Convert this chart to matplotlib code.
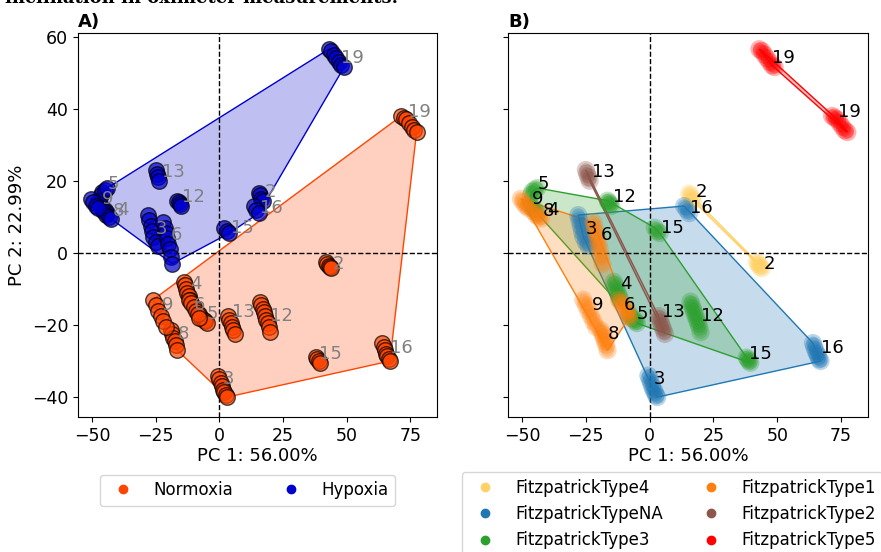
import numpy as np
import matplotlib
matplotlib.use('Agg')
import matplotlib.pyplot as plt
from matplotlib.lines import Line2D

# subjects and their skin type
subjects = [2, 3, 4, 5, 6, 8, 9, 12, 13, 15, 16, 19]
fitz = ['FitzpatrickType4', 'FitzpatrickTypeNA', 'FitzpatrickType3', 'FitzpatrickType3',
        'FitzpatrickType1', 'FitzpatrickType1', 'FitzpatrickType1', 'FitzpatrickType3',
        'FitzpatrickType2', 'FitzpatrickType3', 'FitzpatrickTypeNA', 'FitzpatrickType5']

# PCA scores, one list per subject (normoxia)
norm_pc1 = [[42, 42.5, 43, 43.5, 44],
            [-0.5, 0, 0.5, 1, 1.5, 2, 2.5, 3],
            [-14, -13.5, -13, -12.5, -12, -11.5],
            [-8, -7, -6, -5.5, -5],
            [-12, -11, -10, -9, -8.5, -8],
            [-19, -18.5, -18, -17.5, -17, -16.5],
            [-26, -25, -24, -23, -22, -21],
            [16, 16.5, 17, 17.5, 18, 18.5, 19, 19.5, 20],
            [3.5, 4, 4.5, 5, 5.5, 6],
            [38, 38.5, 39, 39.5],
            [64, 64.5, 65, 65.5, 66, 66.5, 67],
            [71.5, 72.5, 73.5, 74.5, 75.5, 76.5, 77.5]]
norm_pc2 = [[-2.5, -3, -3.5, -4, -4.3],
            [-34, -35, -36, -37, -38, -38.5, -39.5, -40],
            [-8, -9, -10, -11, -12, -13],
            [-17, -18, -18.5, -19, -19.5],
            [-13, -14, -15, -16, -17, -18],
            [-21.5, -22.5, -23.5, -24.5, -25.5, -27],
            [-13, -14.5, -16, -17.5, -19, -20.5],
            [-13.5, -14.5, -15.5, -16.5, -17.5, -18.5, -19.5, -20.5, -22],
            [-17.5, -18.5, -19.5, -20.5, -21.5, -22.5],
            [-29, -29.5, -30, -30.5],
            [-25, -26, -27, -28, -28.5, -29.5, -30],
            [38, 37.5, 37, 36, 35, 34, 33.5]]

# PCA scores, one list per subject (hypoxia)
hyp_pc1 = [[15.5, 16, 16.5, 17],
           [-28, -27.5, -27, -26.5, -26, -25, -24],
           [-47, -46, -45, -44],
           [-46.5, -46, -45, -44],
           [-22, -21.5, -21, -20.5, -20, -19.5, -19, -18.5],
           [-45.5, -44.5, -43.5, -42.5],
           [-50.5, -49.5, -48.5, -47.5],
           [-16.5, -16, -15.5, -15],
           [-25, -24.5, -24, -23.5],
           [2, 3, 4],
           [13.5, 14.5, 15.5],
           [43, 44, 45, 46, 47, 48, 49]]
hyp_pc2 = [[16.5, 16, 15, 14.5],
           [10.5, 9, 7.5, 6, 4.5, 3, 2],
           [13.5, 12.5, 12, 11],
           [16, 17, 17.5, 18],
           [8.5, 7, 5.5, 4, 2.5, 1, -1, -3],
           [11.5, 10.5, 10, 9.5],
           [15, 14, 13, 12.5],
           [14.5, 14, 13.5, 13],
           [23, 22, 21, 20],
           [7, 6, 5.5],
           [13, 12, 11],
           [56.5, 56, 55, 54, 53, 52, 51.5]]

# where the subject numbers are written
lab_norm_x = [44.5, 1.5, -11.5, -5, -10, -16.5, -22.5, 20, 5, 39, 67, 74]
lab_norm_y = [-3, -35, -8.5, -17, -14.5, -22.5, -14.5, -17.5, -16.5, -28, -26.5, 39]
lab_hyp_x = [18, -25, -40, -44, -19, -42, -46, -14.5, -22.5, 4.5, 16, 48]
lab_hyp_y = [17, 6.5, 12, 19, 5, 11.5, 15, 15.5, 22.5, 7, 12.5, 54]

cond_colors = {'Normoxia': 'orangered', 'Hypoxia': 'mediumblue'}
fitz_colors = {'FitzpatrickType4': '#FFD166', 'FitzpatrickTypeNA': '#1f77b4',
               'FitzpatrickType3': '#2ca02c', 'FitzpatrickType1': '#ff7f0e',
               'FitzpatrickType2': '#8c564b', 'FitzpatrickType5': 'red'}


def hull(pts):
    # monotone chain convex hull
    pts = sorted(set(map(tuple, pts)))
    if len(pts) < 3:
        return np.array(pts)

    def cross(o, a, b):
        return (a[0]-o[0])*(b[1]-o[1]) - (a[1]-o[1])*(b[0]-o[0])
    lower, upper = [], []
    for p in pts:
        while len(lower) >= 2 and cross(lower[-2], lower[-1], p) <= 0:
            lower.pop()
        lower.append(p)
    for p in reversed(pts):
        while len(upper) >= 2 and cross(upper[-2], upper[-1], p) <= 0:
            upper.pop()
        upper.append(p)
    return np.array(lower[:-1] + upper[:-1])


def draw_hull(ax, xs, ys, color):
    h = hull(np.column_stack([xs, ys]))
    ax.fill(h[:, 0], h[:, 1], color=color, alpha=0.25, lw=0)
    ax.fill(h[:, 0], h[:, 1], facecolor='none', edgecolor=color, lw=1)


fig = plt.figure(figsize=(8.81, 5.52), dpi=100)
axA = fig.add_axes([0.0885, 0.2446, 0.4075, 0.6957])
axB = fig.add_axes([0.5766, 0.2446, 0.4084, 0.6957], sharey=axA)

# caption of the page, cut by the top edge
fig.text(0.006, 1.003, 'inclination in oximeter measurements.', fontfamily='DejaVu Serif',
         fontweight='bold', fontsize=13, va='center', ha='left')

# ---- panel A: by condition
conds = [('Normoxia', norm_pc1, norm_pc2, lab_norm_x, lab_norm_y),
         ('Hypoxia', hyp_pc1, hyp_pc2, lab_hyp_x, lab_hyp_y)]
for name, px, py, lx, ly in conds:
    allx = np.concatenate(px)
    ally = np.concatenate(py)
    draw_hull(axA, allx, ally, cond_colors[name])
for name, px, py, lx, ly in conds:
    for i, s in enumerate(subjects):
        axA.scatter(px[i], py[i], s=125, color=cond_colors[name], edgecolors='k',
                    linewidths=1, alpha=0.7, zorder=3)
        axA.text(lx[i], ly[i], str(s), color='grey', fontsize=13, ha='left',
                 va='center', zorder=4)

# ---- panel B: by Fitzpatrick type
types = list(dict.fromkeys(fitz))
for t in types:
    idx = [i for i, f in enumerate(fitz) if f == t]
    xs = np.concatenate([norm_pc1[i] for i in idx] + [hyp_pc1[i] for i in idx])
    ys = np.concatenate([norm_pc2[i] for i in idx] + [hyp_pc2[i] for i in idx])
    draw_hull(axB, xs, ys, fitz_colors[t])
for i, s in enumerate(subjects):
    c = fitz_colors[fitz[i]]
    for px, py, lx, ly in [(norm_pc1, norm_pc2, lab_norm_x, lab_norm_y),
                           (hyp_pc1, hyp_pc2, lab_hyp_x, lab_hyp_y)]:
        axB.scatter(px[i], py[i], s=170, color=c, edgecolors='none', alpha=0.3, zorder=3)
        axB.scatter(px[i], py[i], s=90, color=c, edgecolors='none', alpha=0.3, zorder=3)
        axB.text(lx[i], ly[i], str(s), color='k', fontsize=13, ha='left',
                 va='center', zorder=4)

for ax in (axA, axB):
    ax.axhline(0, color='k', ls='--', lw=1)
    ax.axvline(0, color='k', ls='--', lw=1)
    ax.set_xlim(-55.5, 85.5)
    ax.set_xticks([-50, -25, 0, 25, 50, 75])
    ax.tick_params(labelsize=12.5)
    ax.set_xlabel('PC 1: 56.00%', fontsize=13, labelpad=2)
axA.set_ylim(-45.5, 61)
axA.set_yticks([-40, -20, 0, 20, 40, 60])
axA.set_ylabel('PC 2: 22.99%', fontsize=13)
axB.tick_params(labelleft=False)
axA.set_title('A)', loc='left', fontweight='bold', fontsize=13, pad=4)
axB.set_title('B)', loc='left', fontweight='bold', fontsize=13, pad=4)

hA = [Line2D([], [], ls='none', marker='o', markersize=6, color=cond_colors[c], label=c)
      for c in ['Normoxia', 'Hypoxia']]
fig.legend(handles=hA, loc='center', bbox_to_anchor=(0.281, 0.112), ncol=2,
           fontsize=12, columnspacing=2.5)
hB = [Line2D([], [], ls='none', marker='o', markersize=6, color=fitz_colors[t], label=t)
      for t in types]
fig.legend(handles=hB, loc='upper left', bbox_to_anchor=(0.515, 0.16), ncol=2,
           fontsize=12, columnspacing=1.9)

fig.savefig('out.png', dpi=100)
